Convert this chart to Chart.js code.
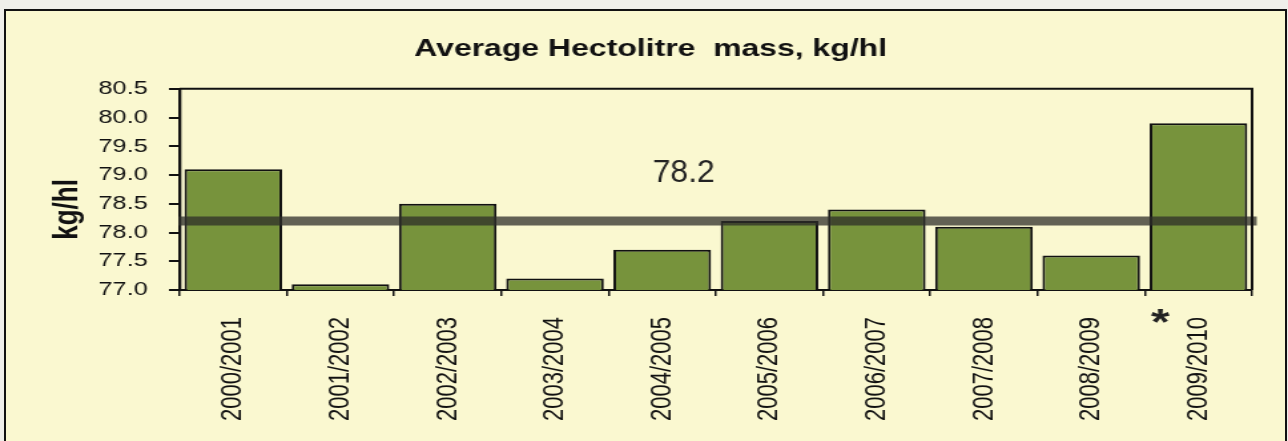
<!DOCTYPE html>
<html lang="en">

<head>
    <meta charset="UTF-8">
    <title>Average Hectolitre mass</title>
    <script src="https://cdn.jsdelivr.net/npm/chart.js"></script>
    <style>
        body {
            margin: 0;
            background: #efefea;
            width: 1288px;
            height: 441px;
            overflow: hidden;
            position: relative;
        }

        .frame {
            position: absolute;
            left: 4px;
            top: 9px;
            width: 1279px;
            height: 460px;
            border: 2px solid #111;
            background: #faf8d0;
        }

        /* the original picture is stretched sideways, so is the canvas */
        #hlChart {
            position: absolute;
            left: 0;
            top: 0;
            transform-origin: 0 0;
        }
    </style>
</head>

<body>
    <div class="frame"></div>
    <canvas id="hlChart" width="968" height="441"></canvas>

    <script>
        const seasons = ['2000/2001', '2001/2002', '2002/2003', '2003/2004', '2004/2005',
            '2005/2006', '2006/2007', '2007/2008', '2008/2009', '2009/2010'];
        const hectolitreMass = [79.1, 77.1, 78.5, 77.2, 77.7, 78.2, 78.4, 78.1, 77.6, 79.9];
        const averageMass = 78.2;
        const yMin = 77.0;
        const yMax = 80.5;
        const yStep = 0.5;
        const markedSeason = '2009/2010'; // gets the star

        const SX = 1288 / 968;
        const FONT = "'Liberation Sans', Arial, sans-serif";
        document.getElementById('hlChart').style.transform = 'scaleX(' + SX + ')';

        // average line, its label, the y title, the star and the plot box
        const extras = {
            id: 'extras',
            afterDatasetsDraw(chart) {
                const { ctx, chartArea: a, scales: { x, y } } = chart;
                const yAvg = y.getPixelForValue(averageMass);
                ctx.save();
                ctx.strokeStyle = 'rgba(45, 45, 40, 0.74)';
                ctx.lineWidth = 9;
                ctx.beginPath();
                ctx.moveTo(a.left - 1, yAvg);
                ctx.lineTo(a.right + 3.5, yAvg);
                ctx.stroke();
                ctx.restore();
            },
            afterDraw(chart) {
                const { ctx, chartArea: a, scales: { x, y } } = chart;
                ctx.save();
                // plot box top and right
                ctx.strokeStyle = '#111';
                ctx.lineWidth = 2;
                ctx.beginPath();
                ctx.moveTo(a.left, a.top);
                ctx.lineTo(a.right, a.top);
                ctx.lineTo(a.right, a.bottom);
                ctx.stroke();

                // average label, drawn unstretched
                ctx.fillStyle = '#222';
                ctx.font = '32px ' + FONT;
                ctx.textAlign = 'center';
                ctx.textBaseline = 'middle';
                ctx.save();
                ctx.translate(a.left + (a.right - a.left) * 0.47, y.getPixelForValue(averageMass) - 48);
                ctx.scale(1 / SX, 1);
                ctx.fillText(averageMass.toFixed(1), 0, 0);
                ctx.restore();

                // y axis title
                ctx.fillStyle = '#111';
                ctx.font = 'bold 26px ' + FONT;
                ctx.save();
                ctx.translate(51, (a.top + a.bottom) / 2 + 20);
                ctx.rotate(-Math.PI / 2);
                ctx.fillText('kg/hl', 0, 0);
                ctx.restore();

                // star on the last season
                const i = seasons.indexOf(markedSeason);
                const cw = (a.right - a.left) / seasons.length;
                ctx.fillStyle = '#222';
                ctx.font = 'bold 36px ' + FONT;
                ctx.textBaseline = 'alphabetic';
                ctx.fillText('*', x.getPixelForValue(i) - cw * 0.355, a.bottom + 45);
                ctx.restore();
            }
        };

        new Chart(document.getElementById('hlChart'), {
            type: 'bar',
            data: {
                labels: seasons,
                datasets: [{
                    data: hectolitreMass,
                    backgroundColor: '#77933c',
                    borderColor: '#111',
                    borderWidth: 2,
                    barPercentage: 0.91,
                    categoryPercentage: 1,
                }],
            },
            options: {
                responsive: false,
                animation: false,
                layout: { padding: { left: 37, right: 27, top: 0, bottom: 0 } },
                plugins: {
                    legend: { display: false },
                    tooltip: { enabled: false },
                    title: {
                        display: true,
                        text: 'Average Hectolitre  mass, kg/hl',
                        color: '#111',
                        font: { family: FONT, size: 24, weight: 'bold' },
                        padding: { top: 35, bottom: 25 },
                    },
                },
                scales: {
                    x: {
                        afterFit(scale) { scale.height = 151; },
                        grid: {
                            offset: true,
                            drawOnChartArea: false,
                            tickLength: 6,
                            tickColor: '#111',
                            lineWidth: 1.5,
                        },
                        border: { color: '#111', width: 2 },
                        ticks: {
                            autoSkip: false,
                            minRotation: 90,
                            maxRotation: 90,
                            padding: 21,
                            color: '#111',
                            font: { family: FONT, size: 22 },
                        },
                    },
                    y: {
                        min: yMin,
                        max: yMax,
                        afterFit(scale) { scale.width = 98; },
                        grid: {
                            drawOnChartArea: false,
                            tickLength: 8,
                            tickColor: '#111',
                            lineWidth: 2,
                        },
                        border: { color: '#111', width: 2.3 },
                        ticks: {
                            stepSize: yStep,
                            padding: 16,
                            color: '#111',
                            font: { family: FONT, size: 19 },
                            callback: (v) => v.toFixed(1),
                        },
                    },
                },
            },
            plugins: [extras],
        });
    </script>
</body>

</html>
